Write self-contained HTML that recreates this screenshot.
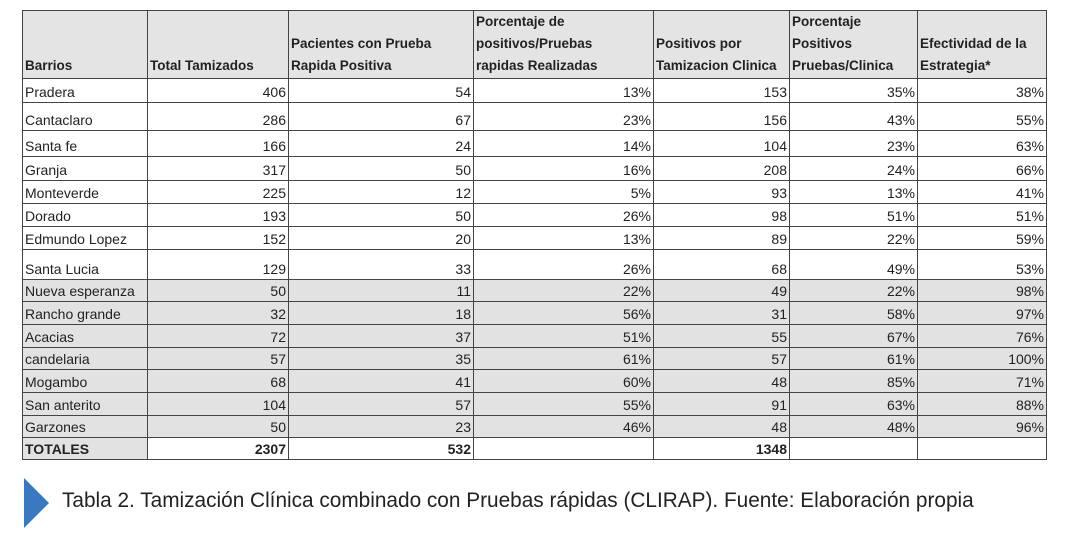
<!DOCTYPE html>
<html><head><meta charset="utf-8"><style>
html,body{margin:0;padding:0;background:#fff;width:1068px;height:537px;overflow:hidden;position:relative}
table{position:absolute;left:22px;top:10px;border-collapse:collapse;table-layout:fixed;font-family:"Liberation Sans",sans-serif;font-size:14px;color:#222}
td{border:1.5px solid #444;padding:0 2px;text-align:right;vertical-align:bottom;line-height:15px;overflow:hidden;white-space:nowrap}
td:first-child{text-align:left}
tr.h td{background:#e4e4e4;font-weight:bold;text-align:left;line-height:22px;padding-bottom:1px;font-size:13.5px}
tr.g td{background:#e2e2e2}
tr.t td{font-weight:bold}
tr.t td:first-child{background:#e2e2e2}
tr td{padding-bottom:2px}
.cap{position:absolute;left:62px;top:489px;font-family:"Liberation Sans",sans-serif;font-size:20.8px;color:#222}
.tri{position:absolute;left:24px;top:478px;width:0;height:0;border-top:25px solid transparent;border-bottom:25px solid transparent;border-left:25px solid #3a78c0}
</style></head><body>
<table>
<colgroup><col style="width:125px"><col style="width:141px"><col style="width:185px"><col style="width:180px"><col style="width:136px"><col style="width:128px"><col style="width:129px"></colgroup>
<tr class="h" style="height:67px"><td>Barrios</td><td>Total Tamizados</td><td>Pacientes con Prueba<br>Rapida Positiva</td><td>Porcentaje de<br>positivos/Pruebas<br>rapidas Realizadas</td><td>Positivos por<br>Tamizacion Clinica</td><td>Porcentaje<br>Positivos<br>Pruebas/Clinica</td><td>Efectividad de la<br>Estrategia*</td></tr>
<tr style="height:24px"><td>Pradera</td><td>406</td><td>54</td><td>13%</td><td>153</td><td>35%</td><td>38%</td></tr>
<tr style="height:28px"><td>Cantaclaro</td><td>286</td><td>67</td><td>23%</td><td>156</td><td>43%</td><td>55%</td></tr>
<tr style="height:26px"><td>Santa fe</td><td>166</td><td>24</td><td>14%</td><td>104</td><td>23%</td><td>63%</td></tr>
<tr style="height:24px"><td>Granja</td><td>317</td><td>50</td><td>16%</td><td>208</td><td>24%</td><td>66%</td></tr>
<tr style="height:23px"><td>Monteverde</td><td>225</td><td>12</td><td>5%</td><td>93</td><td>13%</td><td>41%</td></tr>
<tr style="height:23px"><td>Dorado</td><td>193</td><td>50</td><td>26%</td><td>98</td><td>51%</td><td>51%</td></tr>
<tr style="height:23px"><td>Edmundo Lopez</td><td>152</td><td>20</td><td>13%</td><td>89</td><td>22%</td><td>59%</td></tr>
<tr style="height:30px"><td>Santa Lucia</td><td>129</td><td>33</td><td>26%</td><td>68</td><td>49%</td><td>53%</td></tr>
<tr class="g" style="height:22px"><td>Nueva esperanza</td><td>50</td><td>11</td><td>22%</td><td>49</td><td>22%</td><td>98%</td></tr>
<tr class="g" style="height:23px"><td>Rancho grande</td><td>32</td><td>18</td><td>56%</td><td>31</td><td>58%</td><td>97%</td></tr>
<tr class="g" style="height:23px"><td>Acacias</td><td>72</td><td>37</td><td>51%</td><td>55</td><td>67%</td><td>76%</td></tr>
<tr class="g" style="height:22px"><td>candelaria</td><td>57</td><td>35</td><td>61%</td><td>57</td><td>61%</td><td>100%</td></tr>
<tr class="g" style="height:23px"><td>Mogambo</td><td>68</td><td>41</td><td>60%</td><td>48</td><td>85%</td><td>71%</td></tr>
<tr class="g" style="height:23px"><td>San anterito</td><td>104</td><td>57</td><td>55%</td><td>91</td><td>63%</td><td>88%</td></tr>
<tr class="g" style="height:22px"><td>Garzones</td><td>50</td><td>23</td><td>46%</td><td>48</td><td>48%</td><td>96%</td></tr>
<tr class="t" style="height:22px"><td>TOTALES</td><td>2307</td><td>532</td><td></td><td>1348</td><td></td><td></td></tr>
</table>
<div class="tri"></div>
<div class="cap">Tabla 2. Tamización Clínica combinado con Pruebas rápidas (CLIRAP). Fuente: Elaboración propia</div>
</body></html>
